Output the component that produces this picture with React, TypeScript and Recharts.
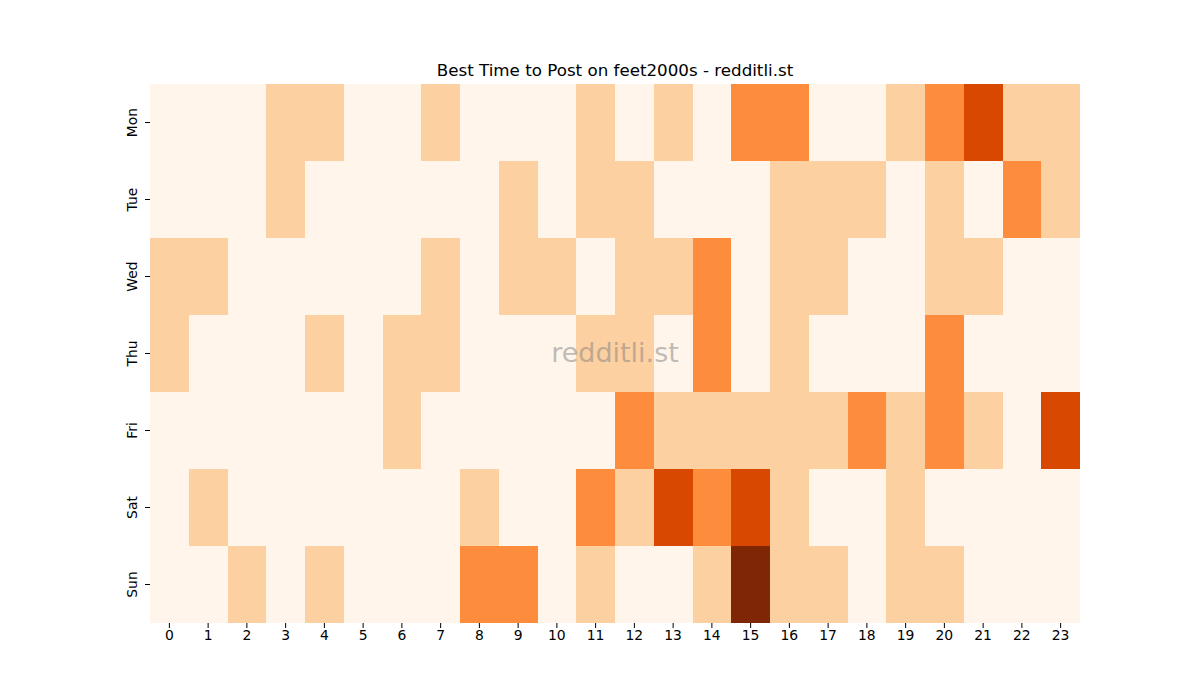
import React from "react";
import { BarChart, Bar, XAxis, YAxis, Cell } from "recharts";

const days = ["Mon", "Tue", "Wed", "Thu", "Fri", "Sat", "Sun"];
const hours = Array.from({ length: 24 }, (_, i) => i);
const hourTicks = hours.map((h) => h + 0.5);

// activity level per hour (0 = lowest, 4 = highest)
const mon = [0, 0, 0, 1, 1, 0, 0, 1, 0, 0, 0, 1, 0, 1, 0, 2, 2, 0, 0, 1, 2, 3, 1, 1];
const tue = [0, 0, 0, 1, 0, 0, 0, 0, 0, 1, 0, 1, 1, 0, 0, 0, 1, 1, 1, 0, 1, 0, 2, 1];
const wed = [1, 1, 0, 0, 0, 0, 0, 1, 0, 1, 1, 0, 1, 1, 2, 0, 1, 1, 0, 0, 1, 1, 0, 0];
const thu = [1, 0, 0, 0, 1, 0, 1, 1, 0, 0, 0, 1, 1, 0, 2, 0, 1, 0, 0, 0, 2, 0, 0, 0];
const fri = [0, 0, 0, 0, 0, 0, 1, 0, 0, 0, 0, 0, 2, 1, 1, 1, 1, 1, 2, 1, 2, 1, 0, 3];
const sat = [0, 1, 0, 0, 0, 0, 0, 0, 1, 0, 0, 2, 1, 3, 2, 3, 1, 0, 0, 1, 0, 0, 0, 0];
const sun = [0, 0, 1, 0, 1, 0, 0, 0, 2, 2, 0, 1, 0, 0, 1, 4, 1, 1, 0, 1, 1, 0, 0, 0];

const levels = [mon, tue, wed, thu, fri, sat, sun];
const palette = ["#fff5eb", "#fdd0a2", "#fd8d3c", "#d94801", "#7f2704"];

// each row: one unit-wide stacked segment per hour
const data = days.map((day) => {
  const row: Record<string, any> = { day };
  hours.forEach((h) => {
    row[`h${h}`] = 1;
  });
  return row;
});

const font = "'DejaVu Sans', sans-serif";

const DayTick = (props: any) => {
  const { x, y, payload } = props;
  const tx = x - 11;
  return (
    <text
      x={tx}
      y={y}
      transform={`rotate(-90, ${tx}, ${y})`}
      textAnchor="middle"
      dominantBaseline="central"
      fontSize={13.9}
      fontFamily={font}
      fill="#000"
    >
      {payload.value}
    </text>
  );
};

export default function App() {
  return (
    <div style={{ position: "absolute", left: 0, top: 0, width: 1200, height: 700, background: "#fff" }}>
      <div
        style={{
          position: "absolute",
          top: 60,
          left: 150,
          width: 930,
          textAlign: "center",
          fontFamily: font,
          fontSize: 16.7,
          color: "#000",
        }}
      >
        Best Time to Post on feet2000s - redditli.st
      </div>
      <BarChart
        width={1200}
        height={700}
        data={data}
        layout="vertical"
        barCategoryGap={0}
        barGap={0}
        margin={{ top: 84, right: 120, left: 110, bottom: 47 }}
      >
        <XAxis
          type="number"
          domain={[0, 24]}
          ticks={hourTicks}
          tickFormatter={(v) => String(Math.floor(v))}
          interval={0}
          axisLine={false}
          tickLine={{ stroke: "#000" }}
          tickSize={5}
          height={30}
          tick={{ fill: "#000", fontSize: 13.9, fontFamily: font }}
        />
        <YAxis
          type="category"
          dataKey="day"
          width={40}
          axisLine={false}
          tickLine={{ stroke: "#000" }}
          tickSize={5}
          tick={<DayTick />}
        />
        {hours.map((h) => (
          <Bar key={h} dataKey={`h${h}`} stackId="a" isAnimationActive={false}>
            {levels.map((row, i) => (
              <Cell key={i} fill={palette[row[h]]} shapeRendering="crispEdges" />
            ))}
          </Bar>
        ))}
      </BarChart>
      <div
        style={{
          position: "absolute",
          top: 337,
          left: 150,
          width: 930,
          textAlign: "center",
          fontFamily: font,
          fontSize: 27,
          color: "rgba(128,128,128,0.5)",
          pointerEvents: "none",
        }}
      >
        redditli.st
      </div>
    </div>
  );
}
